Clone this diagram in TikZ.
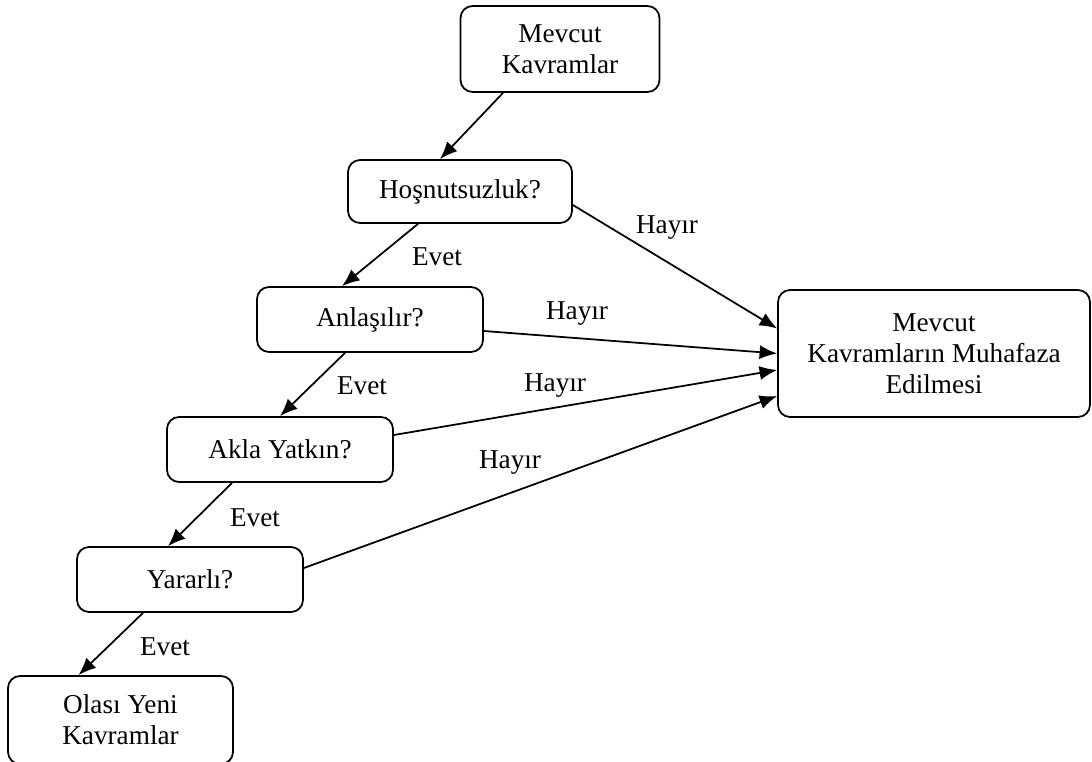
\documentclass[tikz,border=0pt]{standalone}
\usepackage{fontspec}
\setmainfont{Liberation Serif}
\usetikzlibrary{arrows.meta}
\tikzset{
  kutu/.style={draw, line width=1pt, rounded corners=0.24cm, align=center,
    inner sep=0pt, font=\fontsize{15.5}{17.6}\selectfont},
  ok/.style={line width=1pt, -{Latex[length=10pt,width=8pt]}},
  etiket/.style={font=\fontsize{15.5}{17.6}\selectfont, inner sep=0pt}
}
\begin{document}
\begin{tikzpicture}[x=0.02cm, y=-0.02cm]
\useasboundingbox (0,0) rectangle (1092,761);

\node[kutu, minimum width=3.98cm, minimum height=1.72cm] (mk) at (560,49) {Mevcut\\Kavramlar};
\node[kutu, minimum width=4.48cm, minimum height=1.26cm] (hos) at (460,191.5) {Hoşnutsuzluk?};
\node[kutu, minimum width=4.52cm, minimum height=1.30cm] (anl) at (370,319.5) {Anlaşılır?};
\node[kutu, minimum width=4.52cm, minimum height=1.30cm] (akla) at (280,449.5) {Akla Yatkın?};
\node[kutu, minimum width=4.52cm, minimum height=1.30cm] (yar) at (190,579.5) {Yararlı?};
\node[kutu, minimum width=4.50cm, minimum height=1.76cm] (ola) at (120.5,720) {Olası Yeni\\Kavramlar};
\node[kutu, minimum width=6.24cm, minimum height=2.54cm] (muh) at (934,353.5) {Mevcut\\Kavramların Muhafaza\\Edilmesi};

\draw[ok] ([xshift=-1.14cm]mk.south) -- ([xshift=-0.4cm]hos.north);
\draw[ok] ([xshift=-0.84cm]hos.south) -- ([xshift=-0.56cm]anl.north);
\draw[ok] ([xshift=-0.5cm]anl.south) -- (akla.north);
\draw[ok] ([xshift=-0.96cm]akla.south) -- ([xshift=-0.44cm]yar.north);
\draw[ok] ([xshift=-0.94cm]yar.south) -- ([xshift=-0.84cm]ola.north);

\draw[ok] ([yshift=-0.27cm]hos.east) -- ([yshift=0.5cm]muh.west);
\draw[ok] ([yshift=-0.23cm]anl.east) -- (muh.west);
\draw[ok] ([yshift=0.29cm]akla.east) -- ([yshift=-0.33cm]muh.west);
\draw[ok] ([yshift=0.23cm]yar.east) -- ([yshift=-0.85cm]muh.west);

\node[etiket] (e1) at (437,257) {Evet};
\node[etiket] (e2) at (362,386) {Evet};
\node[etiket] (e3) at (255,518) {Evet};
\node[etiket] (e4) at (165,647) {Evet};

\node[etiket] (h1) at (667,228) {Hayır};
\node[etiket] (h2) at (577,314) {Hayır};
\node[etiket] (h3) at (555,386) {Hayır};
\node[etiket] (h4) at (510,463) {Hayır};
\end{tikzpicture}
\end{document}
